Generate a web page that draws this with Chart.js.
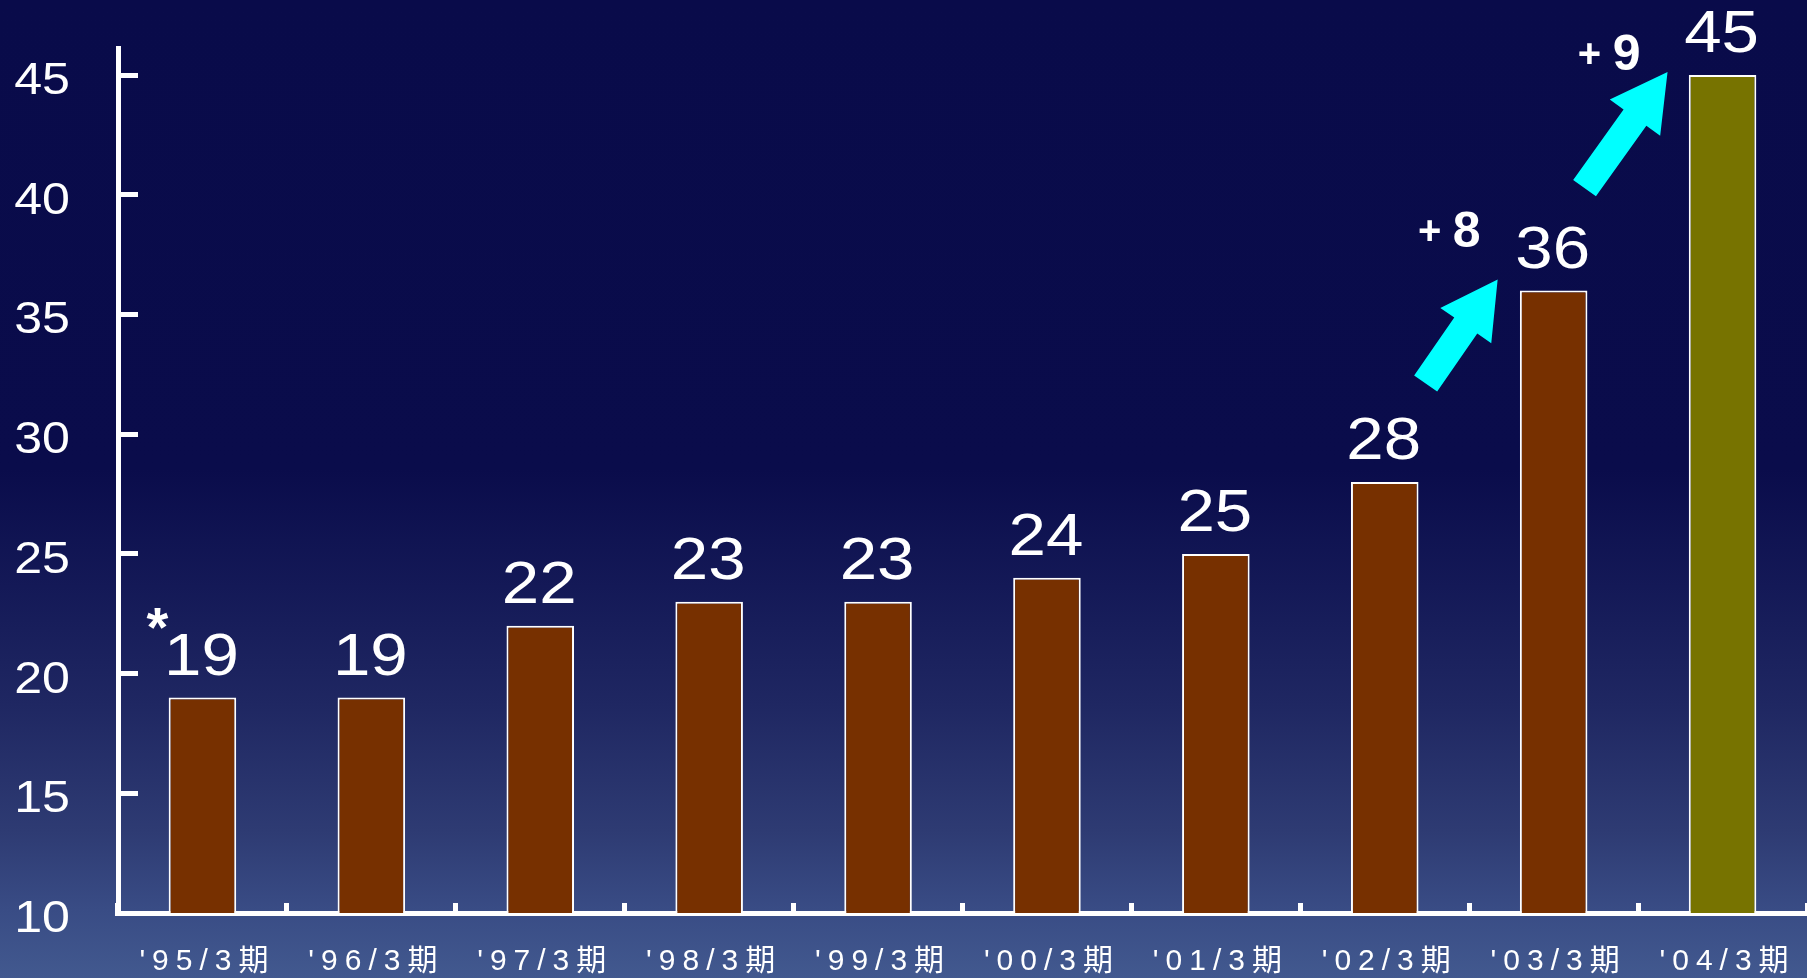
<!DOCTYPE html>
<html>
<head>
<meta charset="utf-8">
<script src="https://cdn.jsdelivr.net/npm/chart.js@4.4.0/dist/chart.umd.min.js"></script>
<style>
  html, body { margin: 0; padding: 0; overflow: hidden; }
  body {
    width: 1807px; height: 978px;
    background: linear-gradient(to bottom, #090b4a 0%, #0a0c4b 48%, #141957 60%, #1f2762 72%, #2e3b73 85%, #394c85 93%, #42598f 100%);
  }
  #wrap { position: relative; width: 1807px; height: 978px; }
</style>
</head>
<body>
<div id="wrap"><canvas id="chart"></canvas></div>
<script>
// 期別の値
const categories = ["'95/3期", "'96/3期", "'97/3期", "'98/3期", "'99/3期", "'00/3期", "'01/3期", "'02/3期", "'03/3期", "'04/3期"];
const values = [19, 19, 22, 23, 23, 24, 25, 28, 36, 45];
const yTicks = [10, 15, 20, 25, 30, 35, 40, 45];
// 矢印を付ける期（前期からの増加）
const growthIndexes = [8, 9];
// 注記マーク
const noteIndex = 0;

const FONT = '"Liberation Sans", Arial, "Noto Sans CJK JP", sans-serif';
const STRETCH = 1.14; // 元図の数字は横長
const barFill = categories.map((_, i) => i === categories.length - 1 ? '#777300' : '#773000');

function wideText(ctx, text, x, y) {
  ctx.save();
  ctx.translate(x, y);
  ctx.scale(STRETCH, 1);
  ctx.fillText(text, 0, 0);
  ctx.restore();
}

// x軸ラベルだけ字間を広げる
const spacing = {
  id: 'spacing',
  beforeDraw(chart) { chart.ctx.letterSpacing = '7px'; },
  beforeDatasetsDraw(chart) { chart.ctx.letterSpacing = '0px'; }
};

// y軸の目盛ラベル（横長の数字）
const yLabels = {
  id: 'yLabels',
  afterDraw(chart) {
    const ctx = chart.ctx;
    const scale = chart.scales.y;
    ctx.save();
    ctx.fillStyle = '#ffffff';
    ctx.font = '44px ' + FONT;
    ctx.textAlign = 'right';
    ctx.textBaseline = 'alphabetic';
    scale.ticks.forEach(t => wideText(ctx, String(t.value), 70, scale.getPixelForValue(t.value) + 19));
    ctx.restore();
  }
};

// 値ラベル・注記・矢印
const annotations = {
  id: 'annotations',
  afterDatasetsDraw(chart) {
    const ctx = chart.ctx;
    const bars = chart.getDatasetMeta(0).data;
    ctx.save();
    ctx.fillStyle = '#ffffff';
    ctx.textAlign = 'center';
    ctx.textBaseline = 'alphabetic';
    ctx.font = '59px ' + FONT;
    bars.forEach((bar, i) => wideText(ctx, String(values[i]), bar.x - 1, bar.y - 23));

    // * 印
    const nb = bars[noteIndex];
    ctx.font = 'bold 56px ' + FONT;
    ctx.fillText('*', nb.x - 45, nb.y - 52);

    // 矢印のレイアウト（棒の上端からの相対位置）
    const layout = [
      { tail: [-128, 93], tip: [-56, -11], plus: [-68, -47], num: [-31, -33] },
      { tail: [-138, 113], tip: [-55, -3], plus: [-78, -16], num: [-41, -2] }
    ];
    growthIndexes.forEach((idx, k) => {
      const b = bars[idx];
      const L = layout[k];
      const tx = b.x + L.tail[0], ty = b.y + L.tail[1];
      const px = b.x + L.tip[0], py = b.y + L.tip[1];
      const len = Math.hypot(px - tx, py - ty);
      const ux = (px - tx) / len, uy = (py - ty) / len;
      const nx = -uy, ny = ux;
      const hw = 14, hh = 31, hl = 56;
      const pt = (a, p) => [tx + ux * a + nx * p, ty + uy * a + ny * p];
      const poly = [pt(0, -hw), pt(len - hl, -hw), pt(len - hl, -hh), pt(len, 0), pt(len - hl, hh), pt(len - hl, hw), pt(0, hw)];
      ctx.beginPath();
      poly.forEach(([x, y], j) => j ? ctx.lineTo(x, y) : ctx.moveTo(x, y));
      ctx.closePath();
      ctx.fillStyle = '#00ffff';
      ctx.fill();

      ctx.fillStyle = '#ffffff';
      ctx.font = 'bold 40px ' + FONT;
      ctx.textBaseline = 'middle';
      ctx.fillText('+', px + L.plus[0], py + L.plus[1]);
      ctx.font = 'bold 50px ' + FONT;
      ctx.textBaseline = 'alphabetic';
      ctx.fillText(String(values[idx] - values[idx - 1]), px + L.num[0], py + L.num[1]);
    });
    ctx.restore();
  }
};

new Chart(document.getElementById('chart'), {
  type: 'bar',
  data: {
    labels: categories,
    datasets: [{
      data: values,
      backgroundColor: barFill,
      borderColor: '#ffffff',
      borderWidth: 2,
      barPercentage: 0.4,
      categoryPercentage: 1.0
    }]
  },
  options: {
    responsive: true,
    maintainAspectRatio: false,
    animation: false,
    layout: { padding: { top: 48, left: 0, right: 0, bottom: 0 } },
    plugins: { legend: { display: false }, tooltip: { enabled: false } },
    scales: {
      x: {
        afterFit: s => { s.height = 65; s.paddingLeft = 0; s.paddingRight = 0; },
        border: { color: '#ffffff', width: 5 },
        grid: { display: true, offset: true, drawOnChartArea: false, drawTicks: true, tickLength: -10, color: '#ffffff', lineWidth: 5 },
        ticks: { color: '#ffffff', font: { family: FONT, size: 30 }, padding: 41, labelOffset: 5, autoSkip: false, maxRotation: 0 }
      },
      y: {
        min: 10,
        max: 46.13,
        afterBuildTicks: s => { s.ticks = yTicks.map(v => ({ value: v })); },
        afterFit: s => { s.width = 118; s.paddingTop = 0; s.paddingBottom = 0; },
        border: { color: '#ffffff', width: 5 },
        grid: { display: true, drawOnChartArea: false, drawTicks: true, tickLength: -20, color: '#ffffff', lineWidth: 5 },
        ticks: { display: false }
      }
    }
  },
  plugins: [spacing, annotations, yLabels]
});
</script>
</body>
</html>
